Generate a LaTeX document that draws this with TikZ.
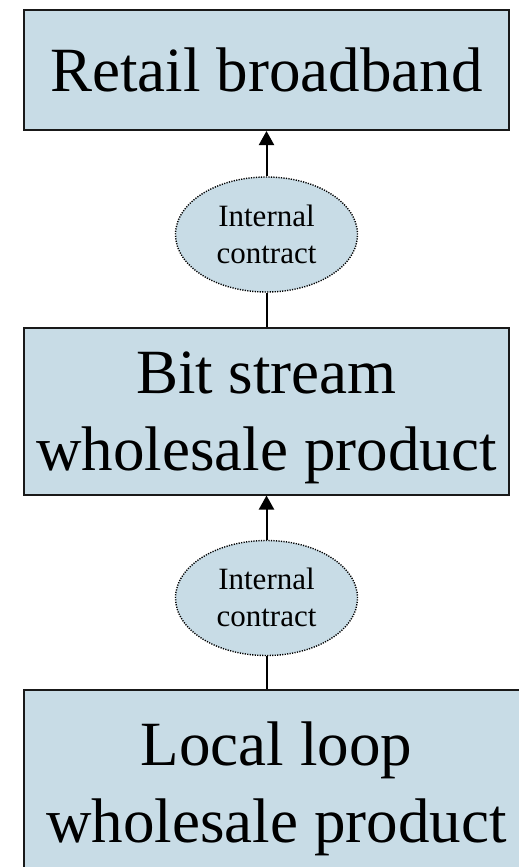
\documentclass[tikz,border=0pt]{standalone}
\usepackage{fontspec}
\setmainfont{Liberation Serif}
\usetikzlibrary{arrows.meta,shapes.geometric}
\definecolor{boxblue}{RGB}{200,220,230}
\tikzset{
	prodbox/.style={rectangle, draw=black!90, line width=2pt, fill=boxblue, inner sep=0pt, align=center, font=\fontsize{63}{76.5}\selectfont, text depth=0pt},
	contract/.style={ellipse, draw=black, line width=1.4pt, dash pattern=on 1.2pt off 1.3pt, fill=boxblue, inner sep=0pt, minimum width=182pt, minimum height=115pt, align=center, font=\fontsize{31}{37}\selectfont, text height=57.5pt, text depth=0pt},
	link/.style={line width=2pt},
	uplink/.style={link, -{Triangle[length=14pt, width=15pt]}}
}

\begin{document}
\begin{tikzpicture}[x=1pt, y=-1pt]
			%%%%% START %%%%%
			
			\useasboundingbox (0, 0) rectangle (519, 867);
			
			\node[prodbox, minimum width=485pt, minimum height=120pt, text height=42pt] (retail) at (266.5, 70) {Retail broadband};
			
			\node[contract] (ic1) at (266.5, 234.5) {Internal\\contract};
			
			\node[prodbox, minimum width=485pt, minimum height=167pt, text height=118.5pt] (bitstream) at (266.5, 411) {Bit stream\\wholesale product};
			
			\node[contract] (ic2) at (266.5, 598) {Internal\\contract};
			
			\node[prodbox, minimum width=506pt, minimum height=186pt, text height=118.5pt] (localloop) at (276.5, 783) {Local loop\\wholesale product};
			
			\draw[uplink] (ic1) -- (retail);
			\draw[link] (bitstream) -- (ic1);
			
			\draw[uplink] (ic2) -- (bitstream);
			\draw[link] (ic2.south |- localloop.north) -- (ic2);
			
			%%%%% END %%%%%
\end{tikzpicture}
\end{document}
